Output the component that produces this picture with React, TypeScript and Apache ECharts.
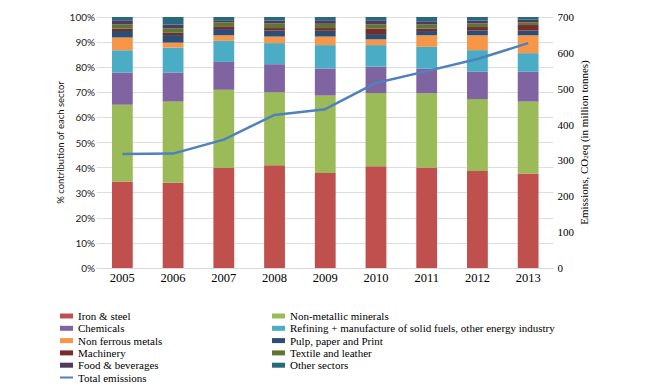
import React, { useEffect, useRef } from "react";
import * as echarts from "echarts";

// Years on the category axis
const years = ["2005", "2006", "2007", "2008", "2009", "2010", "2011", "2012", "2013"];

// Sector shares (% of total emissions), stacked from the bottom up
const ironSteel = [34.5, 34.0, 39.8, 40.9, 37.8, 40.5, 40.0, 38.6, 37.6];
const nonMetallic = [30.5, 32.3, 31.2, 29.1, 30.9, 29.2, 29.6, 28.7, 28.7];
const chemicals = [12.9, 11.6, 11.1, 11.2, 10.8, 10.5, 9.9, 10.9, 11.9];
const refining = [8.9, 9.9, 8.4, 8.4, 9.3, 8.6, 8.6, 8.6, 7.4];
const nonFerrous = [5.0, 2.0, 2.2, 2.6, 3.4, 2.3, 4.6, 5.9, 7.1];
const pulpPaper = [2.6, 3.0, 2.5, 2.4, 2.3, 2.1, 1.7, 2.0, 1.9];
const machinery = [0.9, 0.9, 1.1, 1.0, 1.1, 2.2, 1.0, 1.3, 2.2];
const textile = [1.7, 1.8, 1.6, 1.8, 1.7, 1.7, 1.6, 1.4, 1.0];
const foodBev = [1.7, 1.5, 0.8, 1.2, 1.4, 1.6, 1.3, 1.2, 1.1];
const otherSectors = [1.3, 3.0, 1.3, 1.4, 1.3, 1.3, 1.7, 1.4, 1.1];

// Total emissions, million tonnes CO2eq
const totalEmissions = [318, 319, 358, 427, 443, 516, 549, 583, 627];

// Axis ticks
const pctTicks = { min: 0, max: 100, interval: 10 };
const emissionTicks = { min: 0, max: 700, interval: 100 };

const sectors = [
  { name: "Iron & steel", data: ironSteel, color: "#C0504D" },
  { name: "Non-metallic minerals", data: nonMetallic, color: "#9BBB59" },
  { name: "Chemicals", data: chemicals, color: "#8064A2" },
  { name: "Refining + manufacture of solid fuels, other energy industry", data: refining, color: "#4BACC6" },
  { name: "Non ferrous metals", data: nonFerrous, color: "#F79646" },
  { name: "Pulp, paper and Print", data: pulpPaper, color: "#2C4D75" },
  { name: "Machinery", data: machinery, color: "#772C2A" },
  { name: "Textile and leather", data: textile, color: "#5F7530" },
  { name: "Food & beverages", data: foodBev, color: "#4D3B62" },
  { name: "Other sectors", data: otherSectors, color: "#276A7C" },
];

const SERIF = "'Liberation Serif', 'Times New Roman', serif";
const SANS = "Lato, 'Liberation Sans', sans-serif";

export default function App() {
  const ref = useRef<HTMLDivElement>(null);

  useEffect(() => {
    document.body.style.margin = "0";
    if (!ref.current) return;
    const chart = echarts.init(ref.current, undefined, { renderer: "svg" });

    const legendText = { fontFamily: SERIF, fontSize: 11, color: "#000", lineHeight: 12 };
    const legendBase = {
      orient: "vertical" as const,
      itemWidth: 13,
      itemHeight: 5,
      itemGap: 0.3,
      itemTextGap: 1,
      textStyle: legendText,
      selectedMode: false,
      padding: 0,
    };
    const barItem = (name: string) => ({ name, icon: "rect" });

    chart.setOption({
      animation: false,
      backgroundColor: "#fff",
      grid: { left: 97, right: 99.5, top: 17, bottom: 119 },
      legend: [
        {
          ...legendBase,
          left: 60,
          top: 310,
          data: [
            barItem("Iron & steel"),
            barItem("Chemicals"),
            barItem("Non ferrous metals"),
            barItem("Machinery"),
            barItem("Food & beverages"),
            { name: "Total emissions", icon: "path://M0,0H13V2H0Z" },
          ],
        },
        {
          ...legendBase,
          left: 272,
          top: 310,
          data: [
            barItem("Non-metallic minerals"),
            barItem("Refining + manufacture of solid fuels, other energy industry"),
            barItem("Pulp, paper and Print"),
            barItem("Textile and leather"),
            barItem("Other sectors"),
          ],
        },
      ],
      xAxis: {
        type: "category",
        data: years,
        axisLine: { show: true, lineStyle: { color: "#D9D9D9" } },
        axisTick: { show: false },
        axisLabel: { fontFamily: SERIF, fontSize: 12.5, color: "#000", margin: 3 },
      },
      yAxis: [
        {
          type: "value",
          ...pctTicks,
          name: "% contribution of each sector",
          nameLocation: "middle",
          nameGap: 32,
          nameMoveOverlap: false,
          nameTextStyle: { fontFamily: SANS, fontSize: 9.5, color: "#111" },
          axisLine: { show: false },
          axisTick: { show: false },
          axisLabel: {
            formatter: "{value}%",
            fontFamily: SANS,
            fontSize: 10,
            color: "#222",
            margin: 2,
          },
          splitLine: { lineStyle: { color: "#DDDDDD" } },
        },
        {
          type: "value",
          ...emissionTicks,
          position: "right",
          name: "Emissions, CO{sub|2}eq (in million tonnes)",
          nameLocation: "middle",
          nameGap: 24,
          nameMoveOverlap: false,
          nameRotate: 90,
          nameTextStyle: {
            fontFamily: SERIF,
            fontSize: 11,
            color: "#000",
            rich: {
              sub: { fontFamily: SERIF, fontSize: 7, color: "#000", verticalAlign: "bottom", padding: [5, 0, 0, 0] },
            },
          },
          axisLine: { show: false },
          axisTick: { show: false },
          axisLabel: { fontFamily: SERIF, fontSize: 11, color: "#000", margin: 4 },
          splitLine: { show: false },
        },
      ],
      series: [
        ...sectors.map((s) => ({
          name: s.name,
          type: "bar",
          stack: "share",
          data: s.data,
          barWidth: "41%",
          itemStyle: { color: s.color },
        })),
        {
          name: "Total emissions",
          type: "line",
          yAxisIndex: 1,
          data: totalEmissions,
          symbol: "none",
          lineStyle: { color: "#4F81BD", width: 2.5 },
          itemStyle: { color: "#4F81BD" },
          z: 5,
        },
      ],
    });

    return () => chart.dispose();
  }, []);

  return <div ref={ref} style={{ width: 653, height: 387 }} />;
}
